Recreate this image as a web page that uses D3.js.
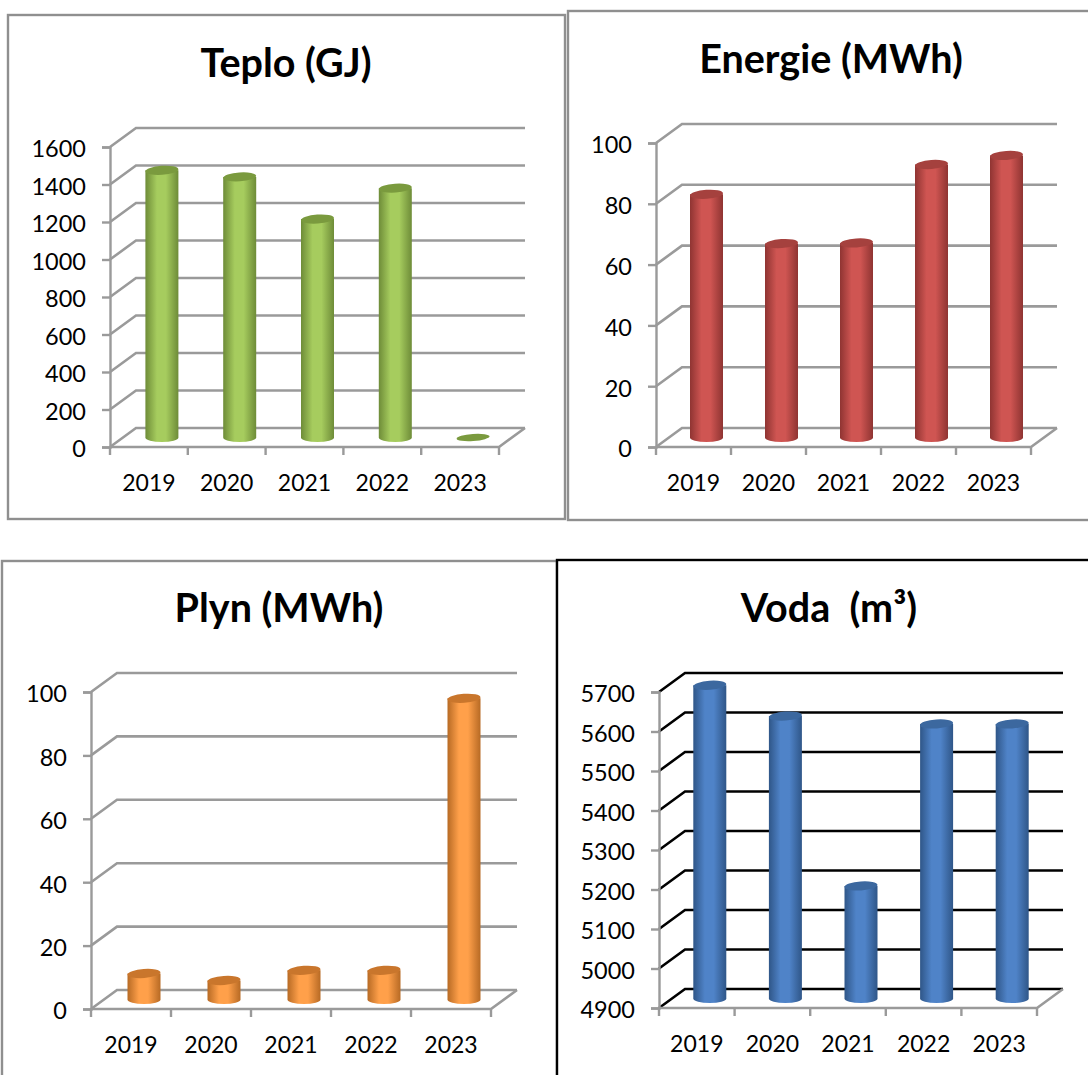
<!DOCTYPE html>
<html>
<head>
<meta charset="utf-8">
<script src="https://cdn.jsdelivr.net/npm/d3@7"></script>
<style>
html, body { margin: 0; padding: 0; background: #fff; }
svg { display: block; }
text { font-family: Lato, "Noto Sans", sans-serif; fill: #000; }
</style>
</head>
<body>
<div id="canvas"></div>
<script>
const years = ["2019", "2020", "2021", "2022", "2023"];

const teplo = [1425, 1390, 1165, 1330, 0];
const energie = [80, 63.8, 64, 89.8, 92.8];
const plyn = [8.2, 6, 9.2, 9.2, 95];
const voda = [5693, 5615, 5185, 5595, 5595];

const teploTicks = [0, 200, 400, 600, 800, 1000, 1200, 1400, 1600];
const energieTicks = [0, 20, 40, 60, 80, 100];
const plynTicks = [0, 20, 40, 60, 80, 100];
const vodaTicks = [4900, 5000, 5100, 5200, 5300, 5400, 5500, 5600, 5700];

const svg = d3.select("#canvas").append("svg")
    .attr("width", 1088)
    .attr("height", 1075);

const defs = svg.append("defs");
const axisGrey = "#9a9a9a";

function drawChart(c) {
    // frame
    svg.append("rect")
        .attr("x", c.frame[0])
        .attr("y", c.frame[1])
        .attr("width", c.frame[2])
        .attr("height", c.frame[3])
        .attr("fill", "#fff")
        .attr("stroke", c.frameColor)
        .attr("stroke-width", 2.4);

    svg.append("text")
        .attr("x", c.titleX)
        .attr("y", c.titleY)
        .attr("text-anchor", "middle")
        .attr("font-size", 39.5)
        .attr("font-weight", 700)
        .style("white-space", "pre")
        .text(c.title);

    const x = d3.scaleBand().domain(years).range([c.left, c.right]);
    const y = d3.scaleLinear().domain(c.domain).range([c.bottom, c.top]);
    const dx = 26, dy = 19;
    const g = svg.append("g");

    // back wall grid lines, the lowest one closes the floor
    c.ticks.forEach(function (t) {
        g.append("path")
            .attr("d", "M" + c.left + "," + y(t) + "L" + (c.left + dx) + "," + (y(t) - dy) + "H" + (c.right + dx))
            .attr("fill", "none")
            .attr("stroke", c.gridColor)
            .attr("stroke-width", 2.6);
    });

    // floor edges
    g.append("path")
        .attr("d", "M" + c.left + "," + c.bottom + "H" + c.right + "L" + (c.right + dx) + "," + (c.bottom - dy))
        .attr("fill", "none")
        .attr("stroke", axisGrey)
        .attr("stroke-width", 2.6);

    const yAxis = g.append("g")
        .attr("transform", "translate(" + c.left + ",0)")
        .call(d3.axisLeft(y).tickValues(c.ticks).tickFormat(d3.format("d")).tickSize(8).tickPadding(16));
    yAxis.selectAll("text")
        .attr("font-size", 23.5)
        .attr("dy", "0.42em")
        .style("font-family", "Lato");

    const xAxis = g.append("g")
        .attr("transform", "translate(0," + c.bottom + ")")
        .call(d3.axisBottom(x).tickSize(0).tickPadding(28));
    xAxis.selectAll("text").attr("font-size", 23).style("font-family", "Lato");
    xAxis.select(".domain").remove();

    // category separators
    g.selectAll(null)
        .data(years.concat("end"))
        .join("line")
        .attr("x1", function (d) { return d === "end" ? c.right : x(d); })
        .attr("x2", function (d) { return d === "end" ? c.right : x(d); })
        .attr("y1", c.bottom)
        .attr("y2", c.bottom + 8)
        .attr("stroke", axisGrey)
        .attr("stroke-width", 2.4);

    yAxis.selectAll("line, .domain").attr("stroke", axisGrey).attr("stroke-width", 2.4);

    // cylinder shading
    const grad = defs.append("linearGradient").attr("id", "grad" + c.id);
    grad.append("stop").attr("offset", "0%").attr("stop-color", c.colors[0]);
    grad.append("stop").attr("offset", "35%").attr("stop-color", c.colors[1]);
    grad.append("stop").attr("offset", "62%").attr("stop-color", c.colors[1]);
    grad.append("stop").attr("offset", "100%").attr("stop-color", c.colors[0]);

    const r = 16.5, ry = 4.5;
    const bars = g.selectAll(null)
        .data(c.values)
        .join("g")
        .attr("transform", function (d, i) {
            return "translate(" + (x(years[i]) + x.bandwidth() / 2 + dx / 2) + ",0)";
        });

    bars.filter(function (d) { return d > c.domain[0]; })
        .append("path")
        .attr("d", function (d) {
            const base = c.bottom - dy / 2;
            const head = y(d) - dy / 2;
            return "M" + -r + "," + head + "V" + base +
                "A" + r + "," + ry + " 0 0 0 " + r + "," + base +
                "V" + head + "Z";
        })
        .attr("fill", "url(#grad" + c.id + ")");

    bars.append("ellipse")
        .attr("cy", function (d) { return y(d) - dy / 2; })
        .attr("rx", r)
        .attr("ry", function (d) { return d > c.domain[0] ? ry : 3.5; })
        .attr("fill", c.colors[2])
        .attr("transform", function (d) { return "rotate(-4 0 " + (y(d) - dy / 2) + ")"; });
}

drawChart({
    id: "teplo", title: "Teplo (GJ)", values: teplo, ticks: teploTicks, domain: [0, 1600],
    frame: [8, 15, 557, 504], frameColor: "#8f8f8f", gridColor: axisGrey,
    titleX: 286, titleY: 77, left: 110, right: 499, top: 147, bottom: 447,
    colors: ["#6e8c38", "#a6cc5e", "#7a9a3e"]
});
drawChart({
    id: "energie", title: "Energie (MWh)", values: energie, ticks: energieTicks, domain: [0, 100],
    frame: [568, 11, 530, 509], frameColor: "#8f8f8f", gridColor: axisGrey,
    titleX: 831, titleY: 73, left: 656, right: 1031, top: 143, bottom: 447,
    colors: ["#8f3432", "#cf5552", "#a5413e"]
});
drawChart({
    id: "plyn", title: "Plyn (MWh)", values: plyn, ticks: plynTicks, domain: [0, 100],
    frame: [2, 561, 555, 524], frameColor: "#8f8f8f", gridColor: axisGrey,
    titleX: 279, titleY: 622, left: 91, right: 491, top: 692, bottom: 1009,
    colors: ["#b76a24", "#ffa04a", "#c9762c"]
});
drawChart({
    id: "voda", title: "Voda  (m³)", values: voda, ticks: vodaTicks, domain: [4900, 5700],
    frame: [557, 560, 541, 525], frameColor: "#000", gridColor: "#000",
    titleX: 829, titleY: 622, left: 659, right: 1037, top: 692, bottom: 1008,
    colors: ["#2f5688", "#4f83c8", "#3c689f"]
});
</script>
</body>
</html>
